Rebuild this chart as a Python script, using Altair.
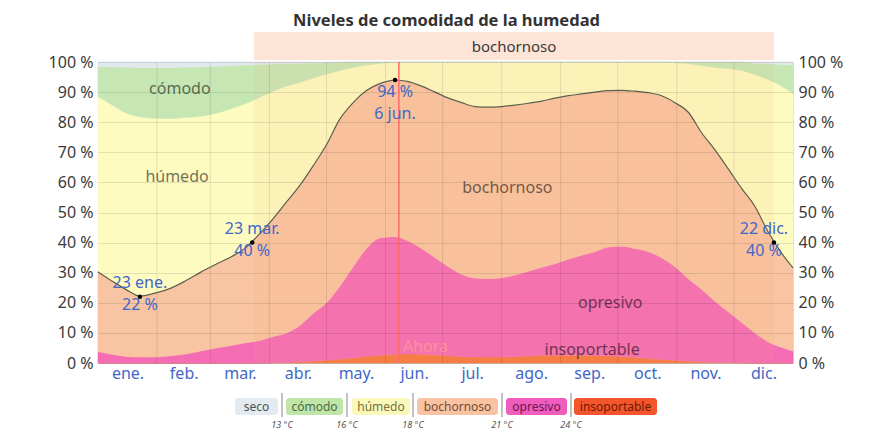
import altair as alt
import pandas as pd

# ---------------- data ----------------
days = [0, 8, 15, 22, 30, 38, 46, 54, 62, 70, 78, 85, 92, 99, 106, 113, 120, 127, 134, 141,
        148, 156, 163, 170, 177, 184, 191, 198, 205, 212, 219, 226, 233, 240, 247, 254, 261, 268, 275, 282,
        289, 296, 303, 310, 317, 324, 331, 338, 345, 352, 359, 365]

insoportable_top = [0, 0, 0, 0, 0, 0, 0, 0, 0, 0,
                    0, 0, 0.1, 0.2, 0.4, 0.6, 0.9, 1.3, 1.7, 2.2,
                    2.6, 2.9, 3.0, 2.9, 2.7, 2.4, 2.1, 2.0, 2.0, 2.0,
                    2.1, 2.3, 2.5, 2.6, 2.6, 2.6, 2.5, 2.4, 2.2, 1.9,
                    1.5, 1.2, 0.9, 0.6, 0.4, 0.25, 0.15, 0.05, 0, 0,
                    0, 0]

opresivo_top = [3.8, 2.8, 2.2, 2.0, 2.0, 2.4, 3.0, 4.0, 5.0, 5.8,
                6.8, 7.5, 8.8, 10.0, 12.5, 16.5, 20.0, 25.5, 32.0, 38.0,
                41.5, 42.0, 40.5, 38.0, 35.0, 32.0, 29.5, 28.2, 28.0, 28.3,
                29.2, 30.5, 31.8, 33.0, 34.5, 35.8, 37.0, 38.5, 38.8, 38.0,
                37.0, 35.0, 32.0, 28.0, 24.5, 20.5, 17.0, 13.5, 10.0, 7.0,
                5.2, 4.0]

bochornoso_top = [30.3, 27.0, 24.3, 22.2, 23.2, 24.8, 27.3, 30.2, 32.8, 35.3,
                  38.5, 43.0, 48.0, 53.5, 59.0, 65.5, 72.5, 81.0, 86.5, 90.5,
                  92.8, 94.0, 93.5, 92.0, 90.0, 88.0, 86.5, 85.2, 85.0, 85.2,
                  85.7, 86.3, 87.0, 88.0, 88.8, 89.4, 90.0, 90.5, 90.6, 90.3,
                  89.8, 88.8, 86.5, 83.3, 76.5, 70.8, 64.5, 58.0, 52.0, 43.5,
                  36.5, 31.6]

humedo_top = [88.5, 85.5, 83.0, 81.8, 81.3, 81.2, 81.6, 82.0, 83.0, 84.5,
              86.3, 88.3, 90.3, 92.0, 93.3, 94.6, 96.0, 97.2, 98.2, 99.0,
              99.5, 100, 100, 100, 100, 100, 100, 100, 100, 100,
              100, 100, 100, 100, 100, 100, 100, 100, 100, 100,
              100, 100, 99.8, 99.4, 98.8, 98.2, 97.8, 97.2, 95.8, 94.2,
              92.0, 89.5]

comodo_top = [98.5, 98.4, 98.3, 98.2, 98.2, 98.2, 98.3, 98.4, 98.6, 98.8,
              99.0, 99.2, 99.3, 99.5, 99.6, 99.7, 99.8, 99.9, 100, 100,
              100, 100, 100, 100, 100, 100, 100, 100, 100, 100,
              100, 100, 100, 100, 100, 100, 100, 100, 100, 100,
              100, 100, 100, 100, 100, 100, 100, 100, 99.6, 99.4,
              99.2, 99.0]

categories = ["insoportable", "opresivo", "bochornoso", "húmedo", "cómodo", "seco"]
month_names = ["ene.", "feb.", "mar.", "abr.", "may.", "jun.", "jul.", "ago.", "sep.", "oct.", "nov.", "dic."]
month_mid = [15.5, 45, 74.5, 105, 135.5, 166, 196.5, 227.5, 258, 288.5, 319, 349.5]
month_bounds = [31, 59, 90, 120, 151, 181, 212, 243, 273, 304, 334]
y_ticks = [0, 10, 20, 30, 40, 50, 60, 70, 80, 90, 100]

season_start, season_end = 82, 355      # 23 mar. – 22 dic.
now_day = 158

annot_day = [22, 81, 156, 355]
annot_val = [22, 40, 94, 40]
annot_text = ["23 ene.\n22 %", "23 mar.\n40 %", "94 %\n6 jun.", "22 dic.\n40 %"]
annot_pos = ["above", "above", "below", "above_left"]

region_label = ["cómodo", "húmedo", "bochornoso", "opresivo", "insoportable"]
region_day = [43, 41.5, 215, 269, 259.5]
region_val = [91, 61.8, 58, 20, 4.3]

legend_labels = ["seco", "cómodo", "húmedo", "bochornoso", "opresivo", "insoportable"]
legend_temps = ["13 °C", "16 °C", "18 °C", "21 °C", "24 °C"]

# ---------------- styling ----------------
W, H = 695, 301
FONT = "Noto Sans"
FS = 16
area_colors = ["#f6793f", "#f46db4", "#f9c4a1", "#fdfbc0", "#c6e7b4", "#e1e9ef"]
legend_fill = ["#e3ebf1", "#bfe5a9", "#fbf8bb", "#f7c3a2", "#f15dbd", "#f3562c"]
legend_text = ["#4a4f55", "#4b6b42", "#76733c", "#7a4a32", "#6a1850", "#6e1a05"]
legend_box_x = [(137, 180), (188, 245), (254, 312), (319, 400), (408, 469), (476, 559)]
legend_sep_x = [184, 249, 315, 404, 473]
BLUE = "#3f67c8"

# ---------------- tables ----------------
bounds = [[0] * len(days), insoportable_top, opresivo_top, bochornoso_top,
          humedo_top, comodo_top, [100] * len(days)]
rows = []
for i, c in enumerate(categories):
    for j, d in enumerate(days):
        rows.append({"day": d, "cat": c, "lo": bounds[i][j], "hi": bounds[i + 1][j]})
bands = pd.DataFrame(rows)
muggy = pd.DataFrame({"day": days, "v": bochornoso_top})
annots = pd.DataFrame({"day": annot_day, "v": annot_val, "t": annot_text, "pos": annot_pos})
regions = pd.DataFrame({"day": region_day, "v": region_val, "t": region_label})

xscale = alt.Scale(domain=[0, 365], nice=False, zero=False)
yscale = alt.Scale(domain=[0, 100], nice=False, zero=False)
colscale = alt.Scale(domain=categories, range=area_colors)

x_axis = alt.Axis(values=month_mid, title=None, ticks=False, domain=False, grid=False,
                  labelExpr="['ene.','feb.','mar.','abr.','may.','jun.','jul.','ago.','sep.','oct.','nov.','dic.'][floor(datum.value/30.42)]",
                  labelColor=BLUE, labelFont=FONT, labelFontSize=FS, labelPadding=2)
y_axis_left = alt.Axis(values=y_ticks, title=None, ticks=False, domain=False, grid=True,
                       gridColor="#000000", gridOpacity=0.1, gridWidth=1, zindex=1,
                       labelExpr="datum.value + ' %'", labelColor="#3a3a3a", labelFont=FONT,
                       labelFontSize=FS, labelPadding=5)
y_axis_right = alt.Axis(values=y_ticks, title=None, ticks=False, domain=False, grid=False,
                        orient="right", labelExpr="datum.value + ' %'", labelColor="#3a3a3a",
                        labelFont=FONT, labelFontSize=FS, labelPadding=5)


def xe(field):
    return alt.X(field, scale=xscale, axis=x_axis)


def ye(field, **kw):
    return alt.Y(field, scale=yscale, axis=y_axis_left, **kw)


areas = alt.Chart(bands).mark_area(interpolate="monotone", strokeWidth=0.6).encode(
    x=xe("day:Q"),
    y=ye("lo:Q", stack=None),
    y2="hi:Q",
    color=alt.Color("cat:N", scale=colscale, legend=None),
    stroke=alt.Stroke("cat:N", scale=colscale, legend=None),
)

season_overlay = alt.Chart(pd.DataFrame({"a": [season_start], "b": [season_end]})).mark_rect(
    color="#f7a878", opacity=0.10).encode(
    x=xe("a:Q"), x2="b:Q", y=alt.value(0), y2=alt.value(H))

vgrid = alt.Chart(pd.DataFrame({"d": month_bounds})).mark_rule(color="#000000", opacity=0.1).encode(
    x=xe("d:Q"), y=alt.value(0), y2=alt.value(H))

line = alt.Chart(muggy).mark_line(interpolate="monotone", color="#5e5e4c", strokeWidth=1.2).encode(
    x=xe("day:Q"), y=ye("v:Q"))

now_rule = alt.Chart(pd.DataFrame({"d": [now_day]})).mark_rule(color="#ff6a6a", strokeWidth=1.5).encode(
    x=xe("d:Q"), y=alt.value(0), y2=alt.value(H))

now_text = alt.Chart(pd.DataFrame({"d": [172], "v": [5.3], "t": ["Ahora"]})).mark_text(
    font=FONT, fontSize=FS, color="#ff8f9f").encode(
    x=xe("d:Q"), y=ye("v:Q"), text="t:N")

region_text = alt.Chart(regions).mark_text(font=FONT, fontSize=FS, color="#000000", opacity=0.55).encode(
    x=xe("day:Q"), y=ye("v:Q"), text="t:N")

top_band = alt.Chart(pd.DataFrame({"a": [season_start], "b": [season_end],
                                   "m": [(season_start + season_end) / 2], "t": ["bochornoso"]}))
top_rect = top_band.mark_rect(color="#fde4d7").encode(
    x=xe("a:Q"), x2="b:Q", y=alt.value(-30), y2=alt.value(-2))
top_text = top_band.mark_text(font=FONT, fontSize=15, color="#3a3a3a").encode(
    x=xe("m:Q"), y=alt.value(-15), text="t:N")

dots = alt.Chart(annots).mark_circle(color="#000000", size=20, opacity=1).encode(
    x=xe("day:Q"), y=ye("v:Q"))


def annot_layer(pos, baseline, dx, dy):
    return alt.Chart(annots).transform_filter(alt.datum.pos == pos).mark_text(
        font=FONT, fontSize=FS, color=BLUE, lineBreak="\n", lineHeight=22,
        baseline=baseline, dx=dx, dy=dy).encode(
        x=xe("day:Q"), y=ye("v:Q"), text="t:N")


annot_above = annot_layer("above", "bottom", 0, -6)
annot_above_left = annot_layer("above_left", "bottom", -10, -6)
annot_below = annot_layer("below", "top", 0, 4)

title = alt.Chart(pd.DataFrame({"t": ["Niveles de comodidad de la humedad"]})).mark_text(
    font=FONT, fontSize=16.5, fontWeight="bold", color="#333333", baseline="alphabetic").encode(
    x=alt.value(W / 2 + 1), y=alt.value(-36), text="t:N")

# legend (layout in pixels below the plot)
leg = pd.DataFrame({
    "label": legend_labels,
    "x0": [b[0] for b in legend_box_x], "x1": [b[1] for b in legend_box_x],
    "xm": [(b[0] + b[1]) / 2 for b in legend_box_x],
    "fill": legend_fill, "tc": legend_text,
})
leg_rect = alt.Chart(leg).mark_rect(cornerRadius=3).encode(
    x=alt.X("x0:Q", scale=None), x2="x1:Q", y=alt.value(336), y2=alt.value(353),
    color=alt.Color("fill:N", scale=None))
leg_text = alt.Chart(leg).mark_text(font=FONT, fontSize=12).encode(
    x=alt.X("xm:Q", scale=None), y=alt.value(344.5), text="label:N",
    color=alt.Color("tc:N", scale=None))
seps = pd.DataFrame({"x": legend_sep_x, "t": legend_temps})
leg_sep = alt.Chart(seps).mark_rule(color="#9a9a9a", strokeWidth=1.2).encode(
    x=alt.X("x:Q", scale=None), y=alt.value(331), y2=alt.value(355))
leg_temp = alt.Chart(seps).mark_text(font=FONT, fontSize=9, fontStyle="italic", color="#555555",
                                     baseline="middle").encode(
    x=alt.X("x:Q", scale=None), y=alt.value(363), text="t:N")

main = alt.layer(areas, season_overlay, vgrid, line, now_rule, now_text, region_text,
                 top_rect, top_text, dots, annot_above, annot_above_left, annot_below,
                 title, leg_rect, leg_sep, leg_text, leg_temp)

right = alt.Chart(pd.DataFrame({"v": [0, 100]})).mark_point(opacity=0).encode(
    y=alt.Y("v:Q", scale=yscale, axis=y_axis_right))

chart = alt.layer(main, right).resolve_scale(y="independent").properties(
    width=W, height=H,
    autosize=alt.AutoSizeParams(type="none"),
    padding={"left": 90, "top": 54, "right": 88, "bottom": 70},
).configure_view(stroke=None).configure(font=FONT)

chart.save("out.html", embed_options={"renderer": "svg", "actions": False})
